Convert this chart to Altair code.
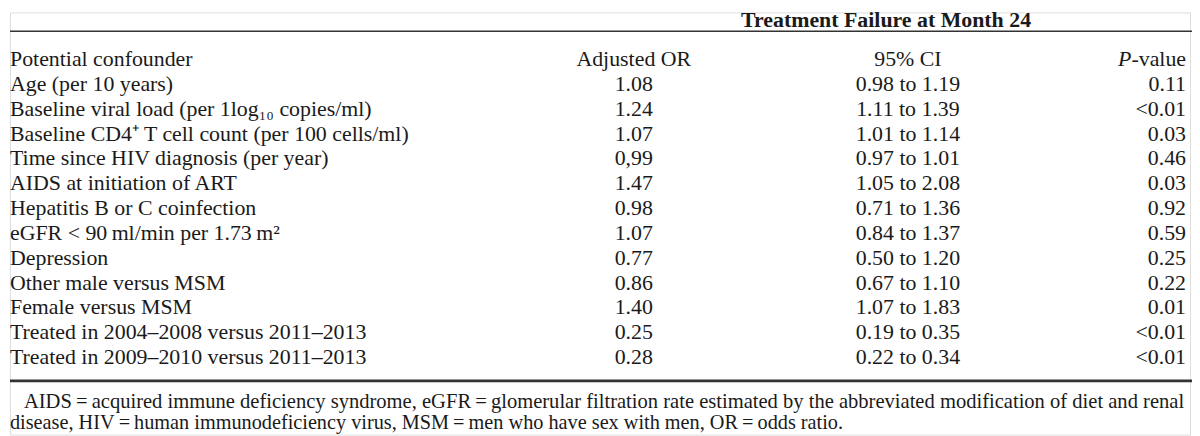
import altair as alt
import pandas as pd

# ---- table content ----
spanner = "Treatment Failure at Month 24"
col_headers = ["Potential confounder", "Adjusted OR", "95% CI", "-value"]
labels = [
    "Age (per 10 years)",
    "Baseline viral load (per 1log\u2081\u2080 copies/ml)",
    "Baseline CD4\u207a T cell count (per 100 cells/ml)",
    "Time since HIV diagnosis (per year)",
    "AIDS at initiation of ART",
    "Hepatitis B or C coinfection",
    "eGFR < 90\u2009ml/min per 1.73\u2009m\u00b2",
    "Depression",
    "Other male versus MSM",
    "Female versus MSM",
    "Treated in 2004\u20132008 versus 2011\u20132013",
    "Treated in 2009\u20132010 versus 2011\u20132013",
]
adj_or = ["1.08", "1.24", "1.07", "0,99", "1.47", "0.98", "1.07", "0.77", "0.86", "1.40", "0.25", "0.28"]
ci95 = ["0.98 to 1.19", "1.11 to 1.39", "1.01 to 1.14", "0.97 to 1.01", "1.05 to 2.08",
        "0.71 to 1.36", "0.84 to 1.37", "0.50 to 1.20", "0.67 to 1.10", "1.07 to 1.83",
        "0.19 to 0.35", "0.22 to 0.34"]
pvals = ["0.11", "<0.01", "0.03", "0.46", "0.03", "0.92", "0.59", "0.25", "0.22", "0.01", "<0.01", "<0.01"]
footnote = [
    "AIDS\u2009=\u2009acquired immune deficiency syndrome, eGFR\u2009=\u2009glomerular filtration rate estimated by the abbreviated modification of diet and renal",
    "disease, HIV\u2009=\u2009human immunodeficiency virus, MSM\u2009=\u2009men who have sex with men, OR\u2009=\u2009odds ratio.",
]

df = pd.DataFrame({
    "row": list(range(len(labels))),
    "label": labels,
    "or": adj_or,
    "ci": ci95,
    "p": pvals,
})
one = pd.DataFrame({"k": [0]})

FONT = "Liberation Serif"
FS = 22
COLOR = "#1a1a1a"
W, H = 1192, 428

yrow = alt.Y("row:Q", scale=alt.Scale(domain=[0, 11], range=[79, 354]), axis=None)

base = alt.Chart(df)

def col(field, x, align):
    return base.mark_text(font=FONT, fontSize=FS, color=COLOR, align=align,
                          baseline="alphabetic").encode(
        x=alt.value(x), y=yrow, text=f"{field}:N")

def fixed_text(txt, x, y, align="left", size=FS, weight="normal", style="normal"):
    return alt.Chart(one).mark_text(
        font=FONT, fontSize=size, color=COLOR, align=align, baseline="alphabetic",
        fontWeight=weight, fontStyle=style, text=txt
    ).encode(x=alt.value(x), y=alt.value(y))

def hrule(y, w):
    return alt.Chart(one).mark_rule(color="#333333", strokeWidth=w).encode(
        x=alt.value(0), x2=alt.value(W), y=alt.value(y))

layers = [
    fixed_text(spanner, 882, 15, align="center", weight="bold"),
    hrule(19, 1.6),
    fixed_text(col_headers[0], 0, 54),
    fixed_text(col_headers[1], 628, 54, align="center"),
    fixed_text(col_headers[2], 904, 54, align="center"),
    fixed_text("P", 1129, 54, align="right", style="italic"),
    fixed_text(col_headers[3], 1184, 54, align="right"),
    col("label", 0, "left"),
    col("or", 628, "center"),
    col("ci", 904, "center"),
    col("p", 1184, "right"),
    hrule(371, 2.8),
    fixed_text(footnote[0], 14, 398, size=20.7),
    fixed_text(footnote[1], 0, 419, size=20.4),
]

chart = alt.layer(*layers).properties(
    width=W, height=H,
    autosize=alt.AutoSizeParams(type="fit", contains="padding"),
    padding=0,
).configure_view(stroke="transparent", strokeWidth=0).configure(background="white")

chart.save("out.html", embed_options={"renderer": "svg", "actions": False})
